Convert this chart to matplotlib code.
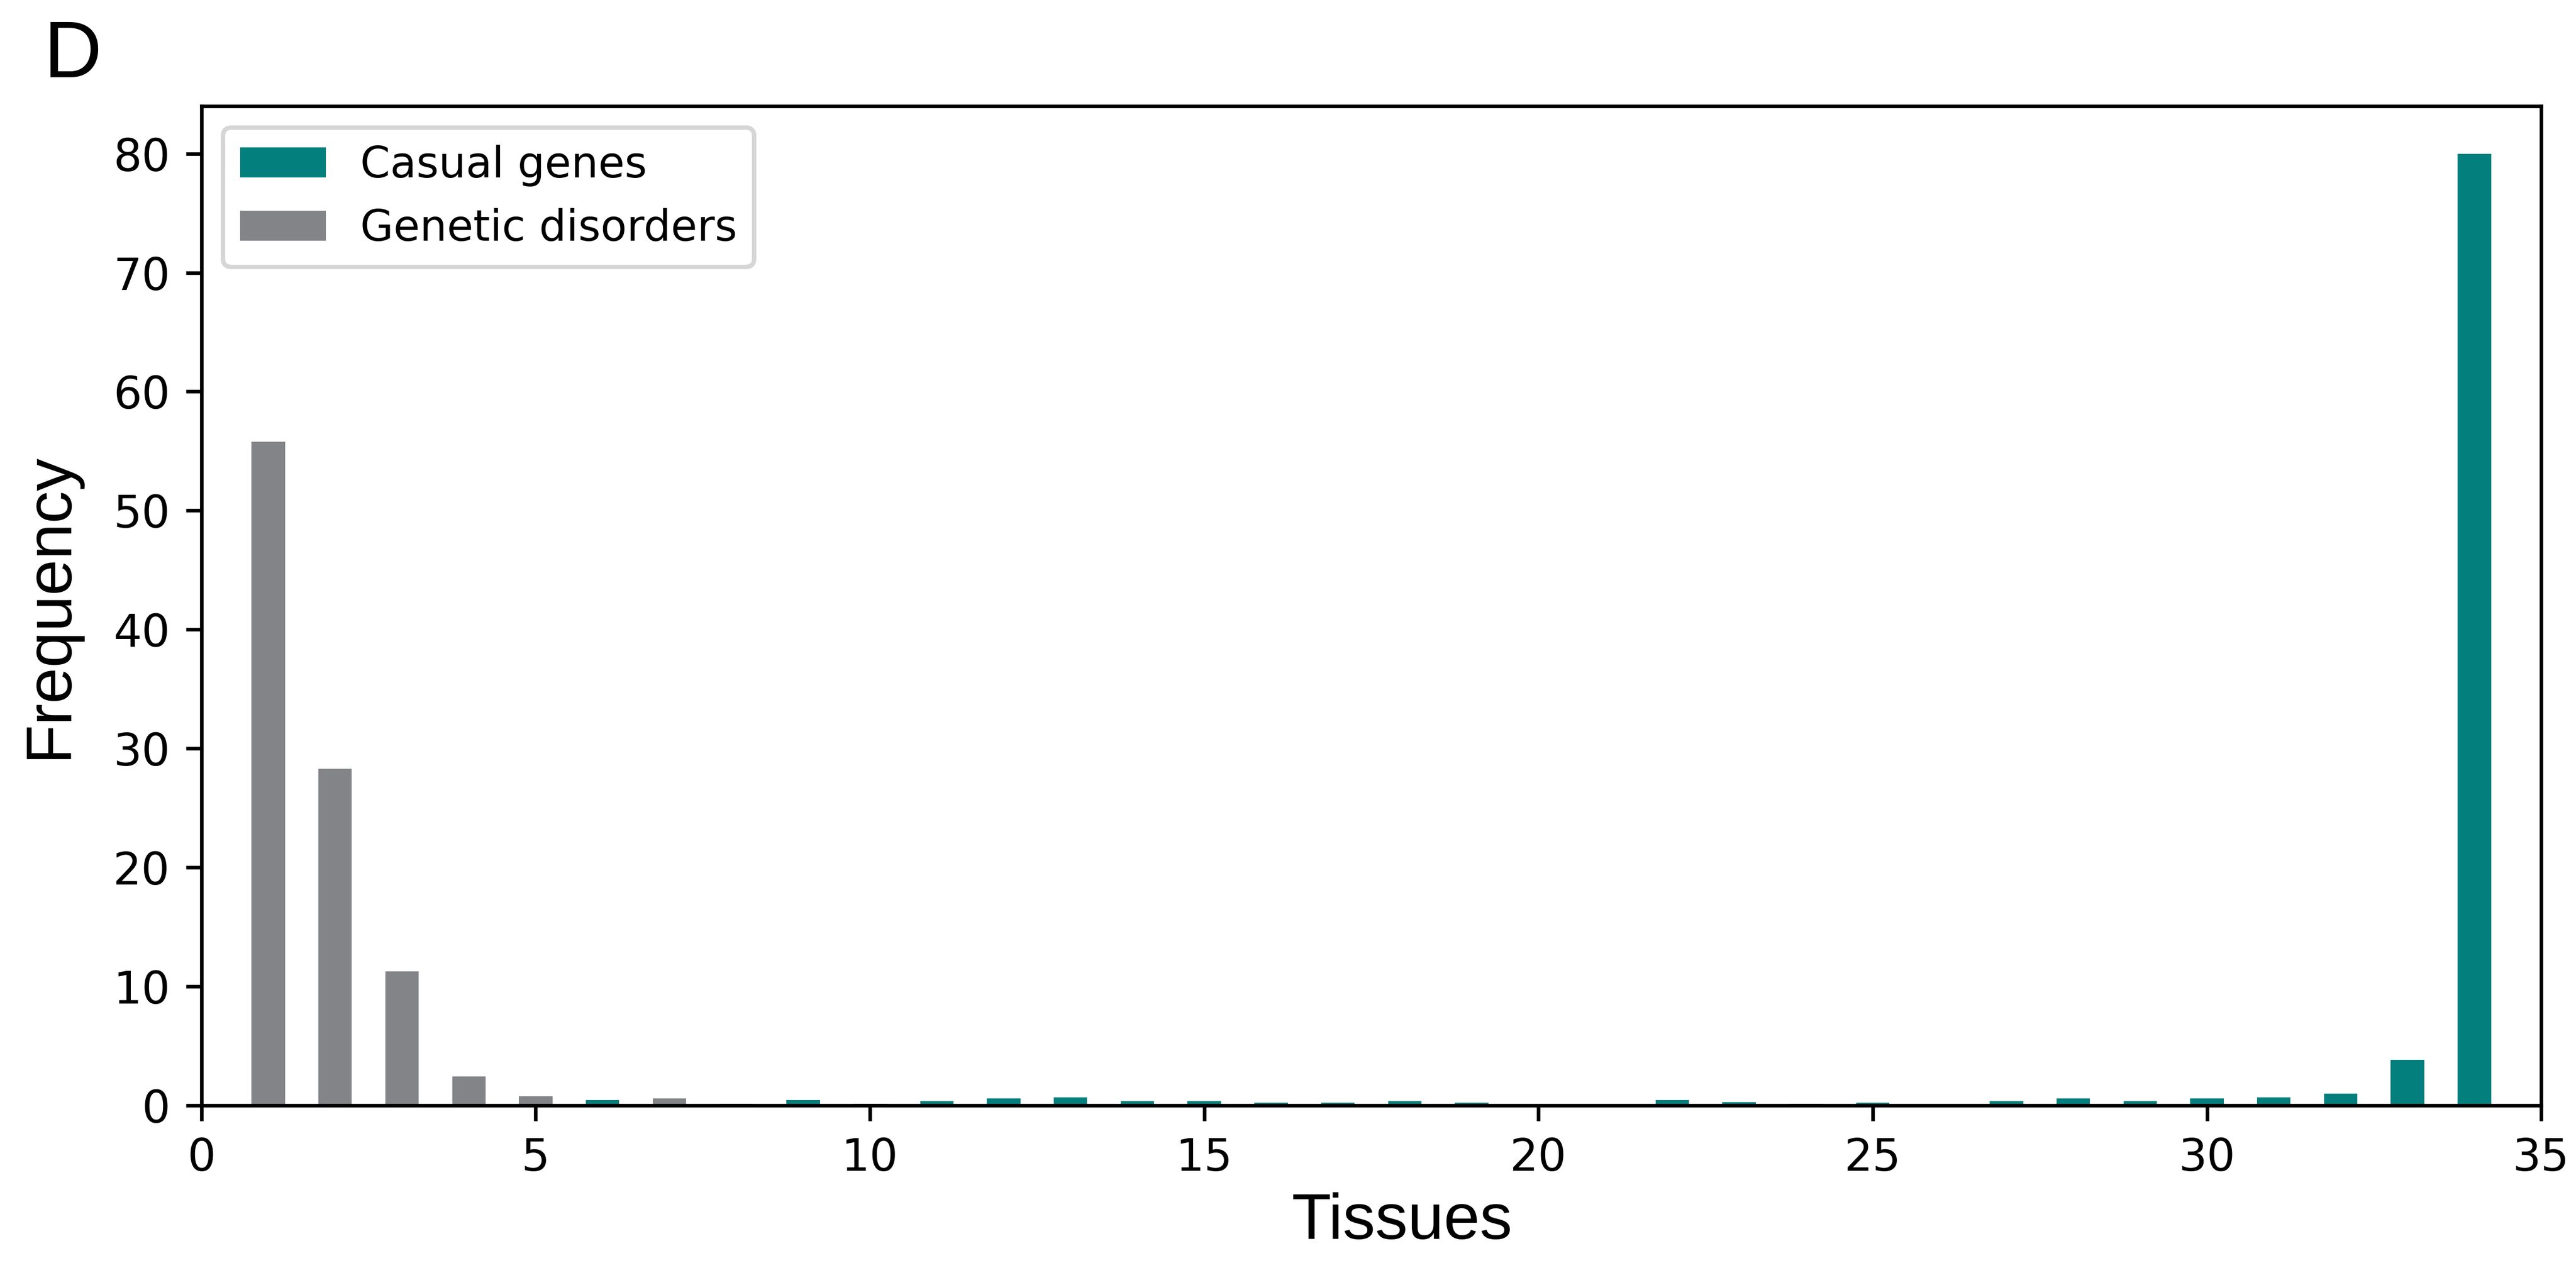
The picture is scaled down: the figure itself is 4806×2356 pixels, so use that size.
import numpy as np
import matplotlib
matplotlib.use("Agg")
import matplotlib.pyplot as plt

tissues = np.arange(1, 35)
casual_genes = [0, 0, 0, 0, 0, 0.46, 0, 0.13, 0.43, 0.13,
                0.34, 0.60, 0.67, 0.34, 0.34, 0.24, 0.24, 0.34, 0.24, 0,
                0, 0.45, 0.25, 0.12, 0.24, 0.07, 0.34, 0.58, 0.34, 0.57,
                0.67, 0.99, 3.82, 80.0]
genetic_disorders = [55.8, 28.3, 11.25, 2.45, 0.75, 0, 0.6, 0, 0, 0,
                     0, 0, 0, 0, 0, 0, 0, 0, 0, 0,
                     0, 0, 0, 0, 0, 0, 0, 0, 0, 0,
                     0, 0, 0, 0]

teal = "#037f7d"
grey = "#838487"
label_font = "Liberation Sans"

fig = plt.figure(figsize=(4806 / 600, 2356 / 600), dpi=600)
ax = fig.add_axes([0.0782, 0.1248, 0.9083, 0.7912])

ax.bar(tissues, casual_genes, width=0.5, color=teal, label="Casual genes")
ax.bar(tissues, genetic_disorders, width=0.5, color=grey, label="Genetic disorders")

ax.set_xlim(0, 35)
ax.set_ylim(0, 84)
ax.set_xticks(np.arange(0, 36, 5))
ax.set_yticks(np.arange(0, 81, 10))

ax.set_xlabel("Tissues", fontsize=14.5, family=label_font)
ax.set_ylabel("Frequency", fontsize=14.5, family=label_font)
ax.xaxis.set_label_coords(0.513, -0.087)
ax.yaxis.set_label_coords(-0.052, 0.5)

ax.legend(loc="upper left", fontsize=9.6)

fig.text(0.017, 0.985, "D", fontsize=18, family=label_font, ha="left", va="top")

fig.savefig("out.png", dpi=600)
